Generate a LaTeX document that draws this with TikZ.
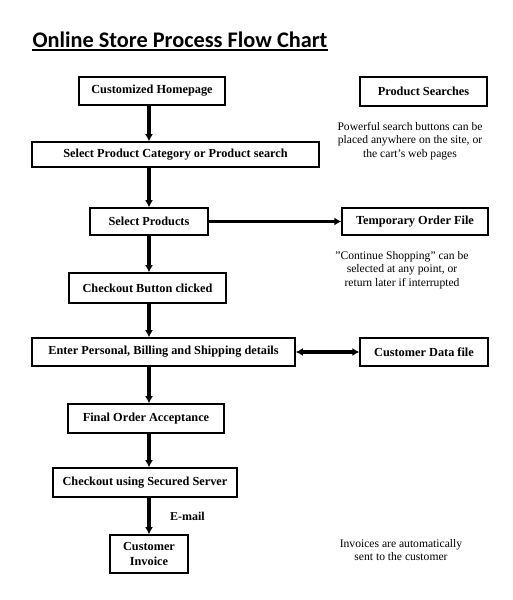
\documentclass[tikz,border=0pt]{standalone}
\usepackage{fontspec}
\setmainfont{Liberation Serif}
\newfontfamily\titlefont{Carlito}
\usetikzlibrary{arrows.meta}

\begin{document}
\begin{tikzpicture}[
  x=1pt, y=-1pt,
  stepbox/.style={rectangle, draw, line width=1.6pt, inner sep=0pt, font=\fontsize{12.3}{15}\selectfont\bfseries, align=center},
  filebox/.style={stepbox, line width=1.3pt},
  note/.style={font=\fontsize{11.6}{13.6}\selectfont, align=center},
  flow/.style={draw, line width=3.5pt, -{Latex[length=7pt,width=8pt]}},
  both/.style={draw, line width=3.5pt, {Latex[length=7pt,width=8pt]}-{Latex[length=7pt,width=8pt]}}
]
\useasboundingbox (0,0) rectangle (513,600);
% title
\node [inner sep=0pt, anchor=base, font=\titlefont\fontsize{22.3}{24}\selectfont\bfseries] (title) at (180,47) {Online Store Process Flow Chart};
\draw [line width=1.4pt] ([yshift=-2.5pt]title.south west) -- ([yshift=-2.5pt]title.south east);
% main steps
\node [stepbox, minimum width=146, minimum height=28] (home) at (152,91) {Customized Homepage};
\node [stepbox, minimum width=287, minimum height=25] (cat) at (175.5,154.5) {Select Product Category or Product search};
\node [stepbox, minimum width=118, minimum height=27] (prod) at (149,221.5) {Select Products};
\node [stepbox, minimum width=157, minimum height=30] (button) at (147.5,288) {Checkout Button clicked};
\node [stepbox, minimum width=263, minimum height=28] (details) at (163.5,352) {Enter Personal, Billing and Shipping details};
\node [stepbox, minimum width=156, minimum height=29] (accept) at (146,418.5) {Final Order Acceptance};
\node [stepbox, minimum width=184, minimum height=29] (secure) at (145,482.5) {Checkout using Secured Server};
\node [stepbox, minimum width=78, minimum height=38] (invoice) at (149,554) {Customer\\Invoice};
% side boxes and notes
\node [filebox, minimum width=127, minimum height=29] (search) at (423.5,91.5) {Product Searches};
\node [note] (searchnote) at (410,141) {Powerful search buttons can be\\placed anywhere on the site, or\\the cart's web pages};
\node [filebox, minimum width=146, minimum height=27] (temp) at (415,221.5) {Temporary Order File};
\node [note] (tempnote) at (402,270) {"Continue Shopping" can be\\selected at any point, or\\return later if interrupted};
\node [filebox, minimum width=128, minimum height=28] (custdata) at (424,352) {Customer Data file};
\node [note] (invnote) at (401,550) {Invoices are automatically\\sent to the customer};
% connectors
\coordinate (spine) at (149,0);
\draw [flow] (home.south -| spine) -- (cat.north -| spine);
\draw [flow] (cat.south -| spine) -- (prod.north -| spine);
\draw [flow] (prod.south -| spine) -- (button.north -| spine);
\draw [flow] (button.south -| spine) -- (details.north -| spine);
\draw [flow] (details.south -| spine) -- (accept.north -| spine);
\draw [flow] (accept.south -| spine) -- (secure.north -| spine);
\draw [flow] (secure.south -| spine) -- node [right=16pt, font=\fontsize{12}{14}\selectfont\bfseries] (email) {E-mail} (invoice.north -| spine);
\draw [flow] (prod.east) -- (temp.west);
\draw [both] (details.east) -- (custdata.west);
\end{tikzpicture}
\end{document}
